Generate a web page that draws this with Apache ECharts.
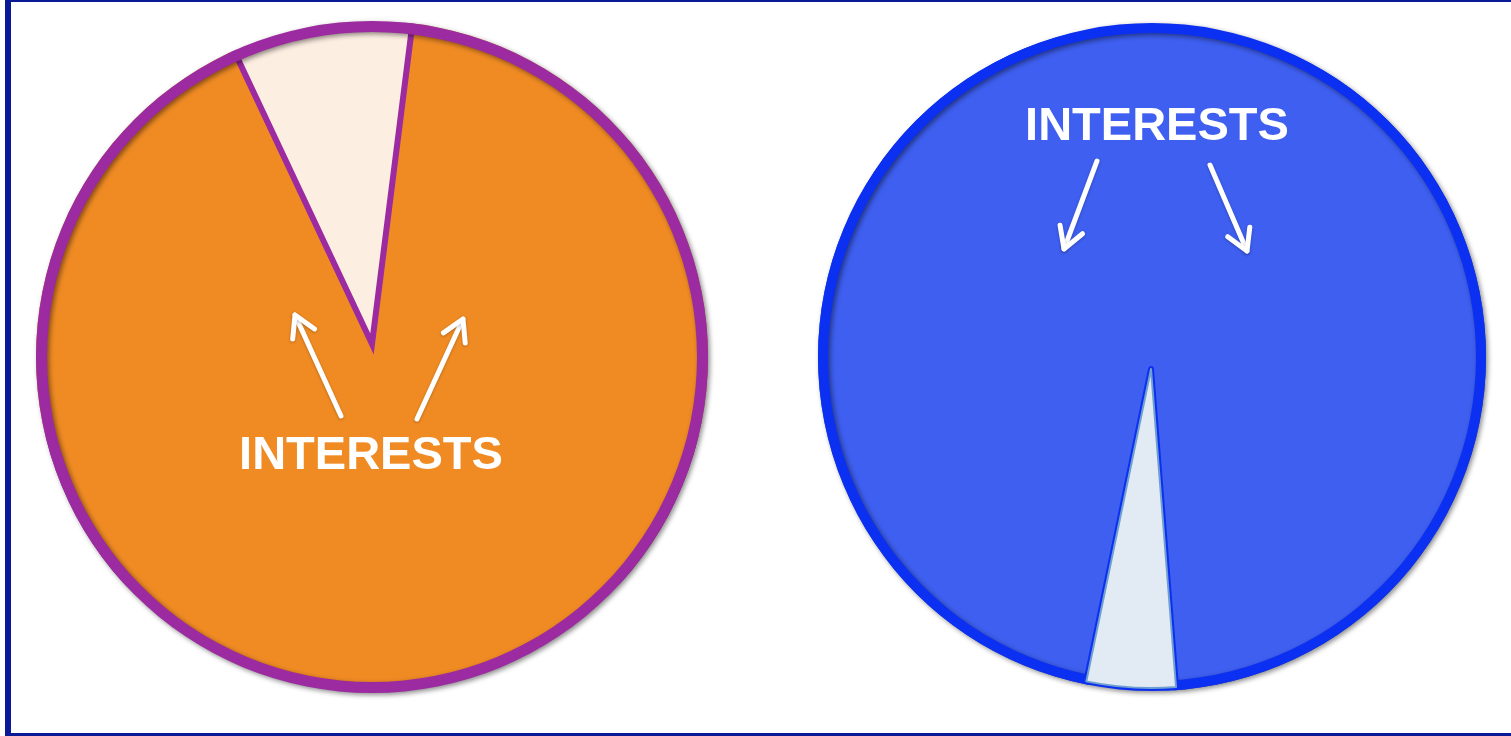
<!DOCTYPE html>
<html>
<head>
<meta charset="utf-8">
<script src="https://cdn.jsdelivr.net/npm/echarts@6/dist/echarts.min.js"></script>
<style>
html,body{margin:0;padding:0;background:#fff;}
#c{width:1511px;height:736px;}
</style>
</head>
<body>
<div id="c"></div>
<script>
// Data
const leftCategories = ['Interests', 'Other'];
const leftValues = [9.0, 91.0];
const rightCategories = ['Interests', 'Other'];
const rightValues = [4.5, 95.5];
const labelText = 'INTERESTS';

const chart = echarts.init(document.getElementById('c'), null, {renderer: 'canvas'});

function arrow(x1, y1, x2, y2) {
  const ang = Math.atan2(y2 - y1, x2 - x1);
  const L = 24, a = Math.PI / 6;
  const p1 = [x2 - L * Math.cos(ang - a), y2 - L * Math.sin(ang - a)];
  const p2 = [x2 - L * Math.cos(ang + a), y2 - L * Math.sin(ang + a)];
  const style = {stroke: '#ffffff', lineWidth: 5, lineCap: 'round', lineJoin: 'round', fill: null,
    shadowBlur: 3, shadowColor: 'rgba(0,0,0,0.25)', shadowOffsetY: 1};
  return [
    {type: 'polyline', z: 100, shape: {points: [[x1, y1], [x2, y2]]}, style: style},
    {type: 'polyline', z: 100, shape: {points: [p1, [x2, y2], p2]}, style: style}
  ];
}

const textStyle = {fill: '#ffffff', font: 'bold 47px "Liberation Sans", Arial, sans-serif',
  textAlign: 'center', textVerticalAlign: 'middle', shadowBlur: 3, shadowColor: 'rgba(0,0,0,0.3)'};

const common = {
  type: 'pie', clockwise: true, label: {show: false}, labelLine: {show: false},
  emphasis: {disabled: true}, silent: true
};
const clear = {color: 'rgba(0,0,0,0)', borderWidth: 0};

function ring(center, rIn, rOut, color, z) {
  return Object.assign({}, common, {
    center: center, radius: [rIn, rOut], z: z,
    data: [{name: 'ring', value: 1, itemStyle: {color: color, borderWidth: 0,
      shadowBlur: 5, shadowColor: 'rgba(0,0,0,0.45)', shadowOffsetX: 2, shadowOffsetY: 2}}]
  });
}
function mask(center, rIn, z) {
  return Object.assign({}, common, {
    center: center, radius: [rIn, rIn + 40], z: z,
    data: [{name: 'mask', value: 1, itemStyle: {color: '#ffffff', borderWidth: 0}}]
  });
}

const L_RING = [372, 357], L_APEX = [372, 344];
const R_RING = [1152, 357], R_APEX = [1151, 369];

const option = {
  animation: false,
  backgroundColor: '#ffffff',
  series: [
    // left pie
    Object.assign({}, common, {
      center: L_APEX, radius: [0, 327], startAngle: 115.2, z: 2,
      data: [
        {name: leftCategories[0], value: leftValues[0], itemStyle: {color: '#fdeee2', borderWidth: 0}},
        {name: leftCategories[1], value: leftValues[1], itemStyle: clear}
      ]
    }),
    Object.assign({}, common, {
      center: L_APEX, radius: [0, 342], startAngle: 115.2, z: 3,
      data: [
        {name: leftCategories[0], value: leftValues[0], itemStyle: clear},
        {name: leftCategories[1], value: leftValues[1],
          itemStyle: {color: '#f08b24', borderColor: '#9c2aa0', borderWidth: 6, borderJoin: 'miter'}}
      ]
    }),
    mask(L_RING, 336, 4),
    ring(L_RING, 325, 336, '#9c2aa0', 5),
    // right pie
    Object.assign({}, common, {
      center: R_APEX, radius: [0, 342], startAngle: 274.5, z: 2,
      data: [
        {name: rightCategories[0], value: rightValues[0], itemStyle: clear},
        {name: rightCategories[1], value: rightValues[1],
          itemStyle: {color: '#3e5ff0', borderColor: '#0c30f2', borderWidth: 6}}
      ]
    }),
    mask(R_RING, 334, 4),
    ring(R_RING, 324, 334, '#0c30f2', 5),
    Object.assign({}, common, {
      center: R_APEX, radius: [0, 319], startAngle: 274.5, z: 6,
      data: [
        {name: rightCategories[0], value: rightValues[0],
          itemStyle: {color: '#e2eaf4', borderColor: '#6fa0cf', borderWidth: 2}},
        {name: rightCategories[1], value: rightValues[1], itemStyle: clear}
      ]
    })
  ],
  graphic: [
    {type: 'rect', z: 200, shape: {x: 5, y: 0, width: 6, height: 736}, style: {fill: '#0a1a96'}},
    {type: 'rect', z: 200, shape: {x: 5, y: 0, width: 1506, height: 2}, style: {fill: '#0a1a96'}},
    {type: 'rect', z: 200, shape: {x: 5, y: 733, width: 1506, height: 3}, style: {fill: '#0a1a96'}},
    {type: 'text', z: 100, x: 371, y: 456, style: Object.assign({text: labelText}, textStyle)},
    {type: 'text', z: 100, x: 1157, y: 127, style: Object.assign({text: labelText}, textStyle)},
    ...arrow(341, 416, 295, 315),
    ...arrow(417, 419, 463, 319),
    ...arrow(1097, 161, 1064, 249),
    ...arrow(1210, 165, 1247, 251)
  ]
};
chart.setOption(option);
</script>
</body>
</html>
